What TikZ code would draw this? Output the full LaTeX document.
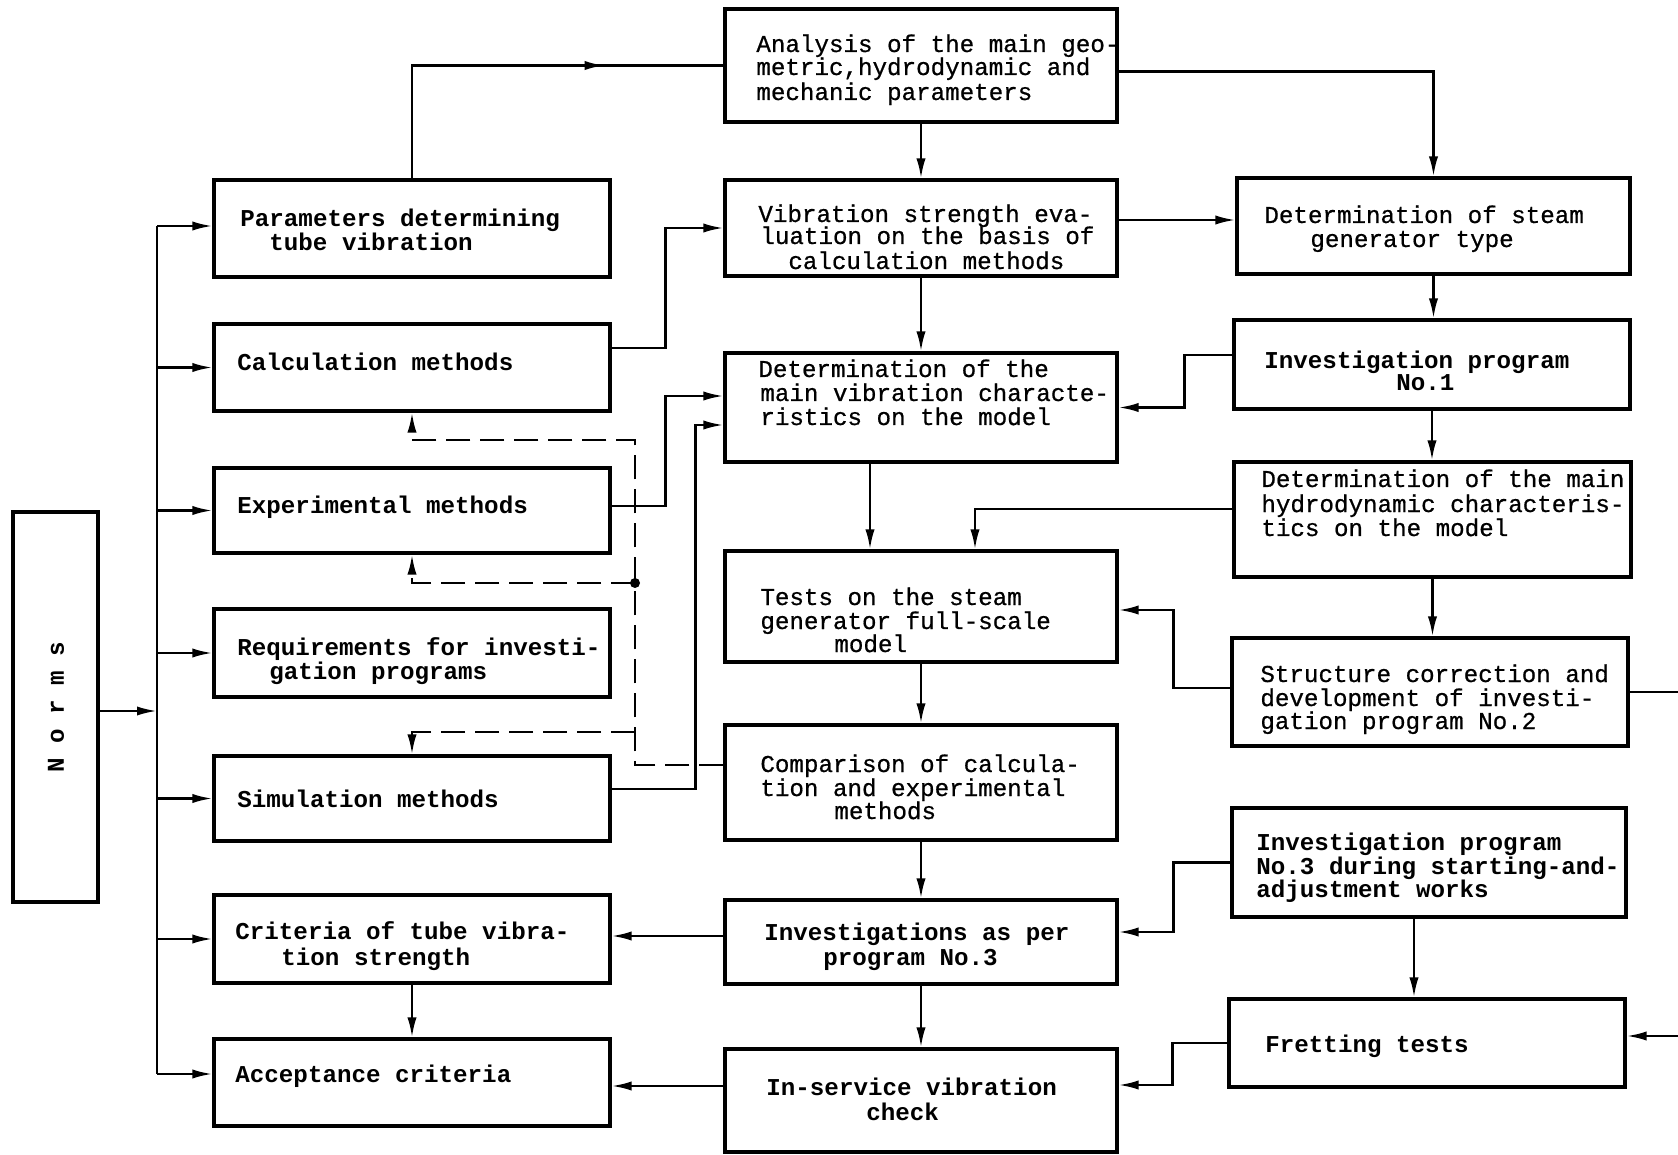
\documentclass[tikz,border=0pt]{standalone}
\usepackage{fontspec}
\setmonofont{Liberation Mono}
\newfontfamily\medtt{Liberation Mono}[FakeBold=0.7]
\usetikzlibrary{arrows.meta,decorations.markings}
\begin{document}
\begin{tikzpicture}[x=0.5pt,y=-0.5pt,
  box/.style={draw, line width=1.6pt, rectangle, inner sep=0pt},
  conn/.style={line width=1.2pt},
  arr/.style={conn, -{Latex[length=10pt,width=4.6pt]}},
  darr/.style={arr, dash pattern=on 12pt off 5pt},
  midarr/.style={conn, postaction={decorate}, decoration={markings, mark=at position 0.72 with {\arrow{Latex[length=10pt,width=4.6pt]}}}},
  txt/.style={font=\medtt\fontsize{12.1}{12}\selectfont, inner sep=0pt, anchor=base west},
  btxt/.style={txt, font=\ttfamily\bfseries\fontsize{12.1}{12}\selectfont}]
\useasboundingbox (0,0) rectangle (1678,1155);

% ---- boxes: left column
\node[box, minimum width=198pt, minimum height=48.5pt] (params) at (412,228.5) {};
\node[box, minimum width=198pt, minimum height=43.5pt] (calc)   at (412,367.5) {};
\node[box, minimum width=198pt, minimum height=42.5pt] (exp)    at (412,510.5) {};
\node[box, minimum width=198pt, minimum height=44pt]   (req)    at (412,653) {};
\node[box, minimum width=198pt, minimum height=42.5pt] (sim)    at (412,798.5) {};
\node[box, minimum width=198pt, minimum height=44pt]   (crit)   at (412,939) {};
\node[box, minimum width=198pt, minimum height=43.5pt] (acc)    at (412,1082.5) {};
% ---- centre column
\node[box, minimum width=196pt, minimum height=56.5pt] (analysis) at (921,65.5) {};
\node[box, minimum width=196pt, minimum height=48pt]   (vib)      at (921,228) {};
\node[box, minimum width=196pt, minimum height=54.5pt] (detmain)  at (921,407.5) {};
\node[box, minimum width=196pt, minimum height=55.5pt] (tests)    at (921,606.5) {};
\node[box, minimum width=196pt, minimum height=57.5pt] (comp)     at (921,782.5) {};
\node[box, minimum width=196pt, minimum height=42pt]   (inv)      at (921,942) {};
\node[box, minimum width=196pt, minimum height=51.5pt] (inserv)   at (921,1100.5) {};
% ---- right column
\node[box, minimum width=196.5pt, minimum height=48pt]   (steam)  at (1433.5,226) {};
\node[box, minimum width=198pt,   minimum height=44.5pt] (p1)     at (1432,364.5) {};
\node[box, minimum width=198.5pt, minimum height=57.5pt] (hydro)  at (1432.5,519.5) {};
\node[box, minimum width=198pt,   minimum height=54pt]   (struct) at (1430,692) {};
\node[box, minimum width=197pt,   minimum height=54.5pt] (p3)     at (1429,862.5) {};
\node[box, minimum width=198pt,   minimum height=44pt]   (fret)   at (1427,1043) {};
% ---- Norms
\node[box, minimum width=42.5pt, minimum height=195pt] (norms) at (55.5,707) {};
\node[rotate=90, inner sep=0pt, font=\ttfamily\bfseries\fontsize{12.1}{12}\selectfont] (normsT) at (56,707) {N o r m s};

% ---- texts
\node[txt] (ta1) at (756,52) {Analysis of the main geo-};
\node[txt] (ta2) at (756,75) {metric,hydrodynamic and};
\node[txt] (ta3) at (756,100) {mechanic parameters};
\node[btxt] (tp1) at (240,227) {Parameters determining};
\node[btxt] (tp2) at (269,251) {tube vibration};
\node[txt] (tv1) at (758,222) {Vibration strength eva-};
\node[txt] (tv2) at (760,244) {luation on the basis of};
\node[txt] (tv3) at (788,269) {calculation methods};
\node[txt] (ts1) at (1264,223) {Determination of steam};
\node[txt] (ts2) at (1310,247) {generator type};
\node[btxt] (tc1) at (237,371) {Calculation methods};
\node[txt] (td1) at (758,377) {Determination of the};
\node[txt] (td2) at (760,401) {main vibration characte-};
\node[txt] (td3) at (760,425) {ristics on the model};
\node[btxt] (tq1) at (1264,369) {Investigation program};
\node[btxt] (tq2) at (1396,391) {No.1};
\node[btxt] (te1) at (237,514) {Experimental methods};
\node[txt] (th1) at (1261,487) {Determination of the main};
\node[txt] (th2) at (1261,512) {hydrodynamic characteris-};
\node[txt] (th3) at (1261,536) {tics on the model};
\node[txt] (tt1) at (760,605) {Tests on the steam};
\node[txt] (tt2) at (760,629) {generator full-scale};
\node[txt] (tt3) at (834,652) {model};
\node[btxt] (tr1) at (237,655) {Requirements for investi-};
\node[btxt] (tr2) at (269,679) {gation programs};
\node[txt] (tu1) at (1260,682) {Structure correction and};
\node[txt] (tu2) at (1260,706) {development of investi-};
\node[txt] (tu3) at (1260,729) {gation program No.2};
\node[txt] (tm1) at (760,772) {Comparison of calcula-};
\node[txt] (tm2) at (760,796) {tion and experimental};
\node[txt] (tm3) at (834,819) {methods};
\node[btxt] (tsi) at (237,807) {Simulation methods};
\node[btxt] (tw1) at (1256,850) {Investigation program};
\node[btxt] (tw2) at (1256,874) {No.3 during starting-and-};
\node[btxt] (tw3) at (1256,897) {adjustment works};
\node[btxt] (tk1) at (235,939) {Criteria of tube vibra-};
\node[btxt] (tk2) at (281,965) {tion strength};
\node[btxt] (ti1) at (764,940) {Investigations as per};
\node[btxt] (ti2) at (823,965) {program No.3};
\node[btxt] (tf1) at (1265,1052) {Fretting tests};
\node[btxt] (tac) at (235,1082) {Acceptance criteria};
\node[btxt] (tn1) at (766,1095) {In-service vibration};
\node[btxt] (tn2) at (866,1120) {check};

% ---- bus from Norms
\coordinate (bus) at (157,711);
\coordinate (busT) at (157,226);
\coordinate (busB) at (157,1074);
\draw[conn] (busT) -- (busB);
\draw[arr] (norms.east |- bus) -- (bus);
\draw[arr] (busT) -- ([yshift=1.25pt]params.west);
\foreach \n in {calc,exp,req,sim,crit}
  \draw[arr] (bus |- \n.west) -- (\n.west);
\draw[arr] (busB) -- ([yshift=4.25pt]acc.west);

% ---- solid connectors
\draw[midarr] (params.north) |- (analysis.west);
\draw[arr] (analysis.south) -- (vib.north);
\draw[arr] ([yshift=-3pt]analysis.east) -| (steam.north);
\draw[arr] ([yshift=9.75pt]calc.east) -- ++(54,0) |- (vib.west);
\draw[arr] ([yshift=4pt]vib.east) -- ([yshift=4pt]vib.east -| steam.west);
\draw[arr] (vib.south) -- (detmain.north);
\draw[arr] (steam.south) -- (steam.south |- p1.north);
\draw[arr] ([yshift=4.75pt]p1.west) -- ++(-48,0) |- (detmain.east);
\draw[arr] (p1.south) -- (p1.south |- hydro.north);
\draw[arr] ([yshift=2.25pt]exp.east) -- ++(54,0) |- ([yshift=5.75pt]detmain.west);
\draw[arr] ([yshift=4.75pt]sim.east) -- ++(84,0) |- ([yshift=-8.75pt]detmain.west);
\draw[arr] ([xshift=-25.5pt]detmain.south) -- ([xshift=-25.5pt]tests.north);
\draw[arr] ([yshift=5.25pt]hydro.west) -| ([xshift=27pt]tests.north);
\draw[arr] (hydro.south) -- (hydro.south |- struct.north);
\draw[arr] ([yshift=2pt]struct.west) -- ++(-57,0) |- ([yshift=-1.75pt]tests.east);
\draw[arr] (struct.east) -- ++(90,0) |- ([yshift=3.5pt]fret.east);
\draw[arr] (tests.south) -- (comp.north);
\draw[arr] (comp.south) -- (inv.north);
\draw[arr] (p3.west) -- ++(-57,0) |- ([yshift=5pt]inv.east);
\draw[arr] ([xshift=-7.5pt]p3.south) -- ([xshift=-7.5pt]p3.south |- fret.north);
\draw[arr] ([yshift=3pt]inv.west) -- ([yshift=3pt]inv.west -| crit.east);
\draw[arr] (inv.south) -- (inserv.north);
\draw[arr] (fret.west) -- ++(-55,0) |- ([yshift=7.75pt]inserv.east);
\draw[arr] ([yshift=-1.75pt]acc.east -| inserv.west) -- ([yshift=-1.75pt]acc.east);
\draw[arr] (crit.south) -- (acc.north);

% ---- dashed feedback from comparison
\coordinate (dA) at (635,583);
\coordinate (dB) at (635,732);
\draw[darr] ([yshift=8.75pt]comp.west) -| (635,440) -| (calc.south);
\draw[darr] (dA) -| (exp.south);
\draw[darr] (dB) -| (sim.north);
\fill (dA) circle (2.5pt);
\end{tikzpicture}
\end{document}
